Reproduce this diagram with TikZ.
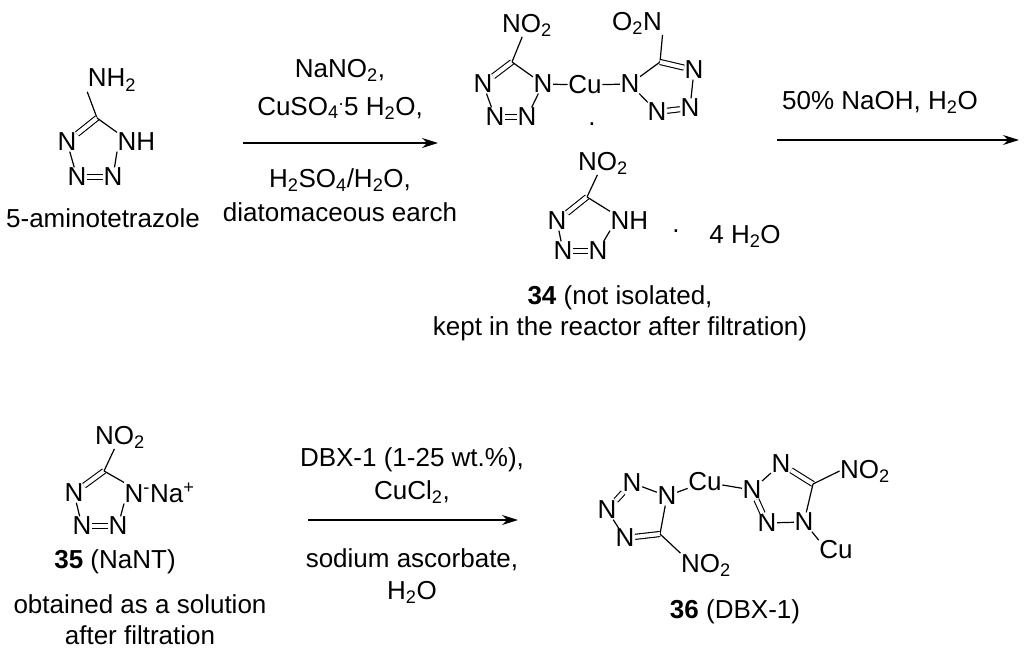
\documentclass[tikz,border=0pt]{standalone}
\usepackage{fontspec}
\setmainfont{Liberation Sans}
\usetikzlibrary{arrows.meta}
\newcommand\sbs[1]{\textsubscript{#1}}
\newcommand\sps[1]{\textsuperscript{#1}}
\begin{document}
\begin{tikzpicture}[x=1pt,y=-1pt,
  every node/.style={font=\fontsize{26}{31}\selectfont},
  atm/.style={inner sep=0.5pt},
  b/.style={line width=1.2pt},
  db/.style={double, double distance=4pt, line width=1.1pt},
  arr/.style={line width=1.2pt,-{Stealth[length=16pt,width=10pt]}},
  lbl/.style={align=center}]
\useasboundingbox (0,0) rectangle (1024,655);
% 5-aminotetrazole
\node[atm] (a5) at (112,80) {NH\sbs{2}};
\coordinate (ac) at (97,118);
\node[atm] (a4) at (67,142) {N};
\node[atm,anchor=west] (a1) at (117,142) {NH};
\node[atm] (a3) at (77,177) {N};
\node[atm] (a2) at (113,177) {N};
\draw[b] (ac) -- (a5.south west);
\draw[db] (ac) -- (a4);
\draw[b] (a4) -- (a3);
\draw[db] (a3) -- (a2);
\draw[b] (a2) -- (a1.south west);
\draw[b] (a1.north west) -- (ac);
\node (aname) at (103,218) {5-aminotetrazole};
% arrow 1
\coordinate (r1s) at (243,143); \coordinate (r1e) at (438,143);
\draw[arr] (r1s) -- (r1e);
\node[lbl] (r1a) at (340,70) {NaNO\sbs{2},};
\node[lbl] (r1b) at (340,108) {CuSO\sbs{4}\sps{.}5 H\sbs{2}O,};
\node[lbl] (r1c) at (340,180) {H\sbs{2}SO\sbs{4}/H\sbs{2}O,};
\node[lbl] (r1d) at (340,212) {diatomaceous earch};
% complex 34
\node[atm] (l5) at (527,25) {NO\sbs{2}};
\coordinate (lc) at (512,62);
\node[atm] (l4) at (483,84) {N};
\node[atm] (l1) at (543,84) {N};
\node[atm] (l3) at (495,117) {N};
\node[atm] (l2) at (527,117) {N};
\node[atm] (cu) at (585,85) {Cu};
\node[atm] (r1) at (630,84) {N};
\coordinate (rc) at (660,62);
\node[atm] (r5) at (637,23) {O\sbs{2}N};
\node[atm] (r4) at (694,70) {N};
\node[atm] (r3) at (690,108) {N};
\node[atm] (r2) at (657,112) {N};
\draw[b] (lc) -- (l5);
\draw[db] (lc) -- (l4);
\draw[b] (l4) -- (l3);
\draw[db] (l3) -- (l2);
\draw[b] (l2) -- (l1);
\draw[b] (l1) -- (lc);
\draw[b] (l1) -- (cu);
\draw[b] (cu) -- (r1);
\draw[b] (r1) -- (rc);
\draw[b] (rc) -- (r5.south east);
\draw[db] (rc) -- (r4);
\draw[b] (r4) -- (r3);
\draw[db] (r3) -- (r2);
\draw[b] (r2) -- (r1);
\node (dot1) at (592,124) {.};
\node[atm] (m5) at (603,163) {NO\sbs{2}};
\coordinate (mc) at (587,197);
\node[atm] (m4) at (557,221) {N};
\node[atm,anchor=west] (m1) at (610,221) {NH};
\node[atm] (m3) at (563,251) {N};
\node[atm] (m2) at (598,251) {N};
\draw[b] (mc) -- (m5);
\draw[db] (mc) -- (m4);
\draw[b] (m4) -- (m3);
\draw[db] (m3) -- (m2);
\draw[b] (m2) -- (m1.south west);
\draw[b] (m1.north west) -- (mc);
\node (dot2) at (676,231) {.};
\node (water) at (745,236) {4 H\sbs{2}O};
\node[lbl] (n34) at (620,313) {\textbf{34} (not isolated,\\kept in the reactor after filtration)};
% arrow 2
\coordinate (r2s) at (777,140); \coordinate (r2e) at (1019,140);
\draw[arr] (r2s) -- (r2e);
\node (r2a) at (880,102) {50\% NaOH, H\sbs{2}O};
% compound 35
\node[atm] (s5) at (120,437) {NO\sbs{2}};
\coordinate (sc) at (104,471);
\node[atm] (s4) at (74,493) {N};
\node[atm,anchor=west] (s1) at (124,493) {N\sps{-}Na\sps{+}};
\node[atm] (s3) at (82,526) {N};
\node[atm] (s2) at (118,526) {N};
\draw[b] (sc) -- (s5);
\draw[db] (sc) -- (s4);
\draw[b] (s4) -- (s3);
\draw[db] (s3) -- (s2);
\draw[b] (s2) -- (s1.south west);
\draw[b] (s1.north west) -- (sc);
\node (n35) at (115,562) {\textbf{35} (NaNT)};
\node[lbl] (n35b) at (140,620) {obtained as a solution\\after filtration};
% arrow 3
\coordinate (r3s) at (308,520); \coordinate (r3e) at (518,520);
\draw[arr] (r3s) -- (r3e);
\node (r3a) at (412,460) {DBX-1 (1-25 wt.\%),};
\node (r3b) at (412,492) {CuCl\sbs{2},};
\node (r3c) at (412,560) {sodium ascorbate,};
\node (r3d) at (412,592) {H\sbs{2}O};
% compound 36
\node[atm] (p4) at (632,483) {N};
\node[atm] (p1) at (667,496) {N};
\node[atm] (p3) at (607,510) {N};
\node[atm] (p2) at (625,538) {N};
\coordinate (pc) at (660,534);
\node[atm] (p5) at (706,565) {NO\sbs{2}};
\node[atm] (cu2) at (705,482) {Cu};
\node[atm] (q2) at (752,490) {N};
\node[atm] (q3) at (781,464) {N};
\coordinate (qc) at (813,484);
\node[atm] (q5) at (865,471) {NO\sbs{2}};
\node[atm] (q1) at (804,522) {N};
\node[atm] (q4) at (767,523) {N};
\node[atm] (cu3) at (836,550) {Cu};
\draw[b] (p4) -- (p1);
\draw[b] (p1) -- (pc);
\draw[db] (pc) -- (p2);
\draw[b] (p2) -- (p3);
\draw[db] (p3) -- (p4);
\draw[b] (pc) -- (p5.north west);
\draw[b] (p1) -- (cu2);
\draw[b] (cu2) -- (q2);
\draw[b] (q2) -- (q3);
\draw[db] (q3) -- (qc);
\draw[b] (qc) -- (q5.west);
\draw[b] (qc) -- (q1);
\draw[b] (q1) -- (q4);
\draw[db] (q4) -- (q2);
\draw[b] (q1) -- (cu3.north west);
\node (n36) at (735,612) {\textbf{36} (DBX-1)};
\end{tikzpicture}
\end{document}
